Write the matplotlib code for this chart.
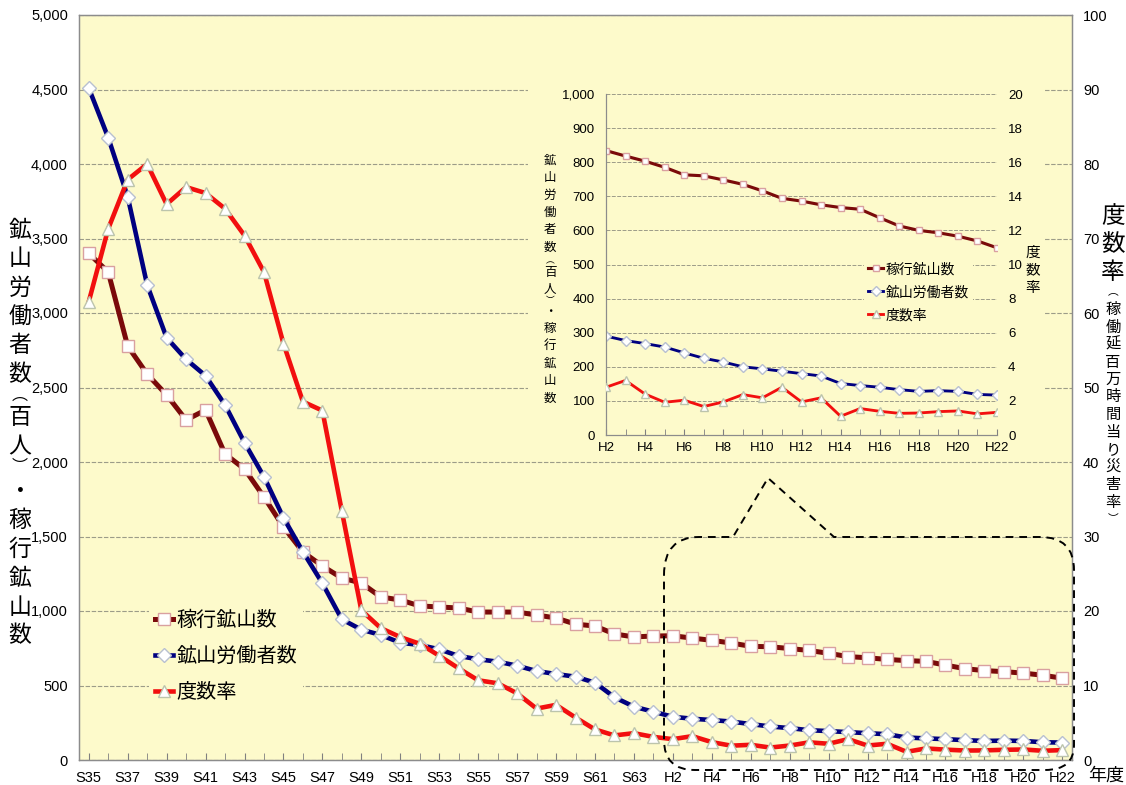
import matplotlib
matplotlib.use("Agg")
import matplotlib.pyplot as plt
from matplotlib.path import Path
from matplotlib.patches import PathPatch, Rectangle
from matplotlib.lines import Line2D
from matplotlib.ticker import FuncFormatter, MultipleLocator

plt.rcParams['font.family'] = ['Liberation Sans', 'Noto Sans CJK JP', 'DejaVu Sans']
JP = ['Noto Sans CJK JP', 'DejaVu Sans']

# ---- data ----
years = ['S%d' % y for y in range(35, 64)] + ['H%d' % y for y in range(1, 23)]

mines = [3400, 3275, 2778, 2590, 2450, 2282, 2349, 2054, 1953, 1765,
         1564, 1396, 1302, 1221, 1188, 1094, 1074, 1034, 1027, 1020,
         993, 993, 993, 973, 953, 912, 899, 846, 826, 832,
         834, 818, 803, 785, 763, 760, 748, 735, 716, 694,
         686, 675, 667, 662, 637, 613, 600, 593, 583, 569, 549]

workers = [4510, 4177, 3781, 3188, 2834, 2689, 2579, 2383, 2130, 1901,
           1626, 1398, 1186, 944, 875, 839, 787, 772, 743, 698,
           676, 660, 633, 597, 577, 559, 519, 421, 358, 324,
           290, 277, 268, 258, 241, 225, 214, 200, 194, 187,
           180, 173, 151, 145, 140, 133, 128, 130, 128, 119, 117]

rate = [61.5, 71.3, 77.9, 80.0, 74.6, 76.9, 76.1, 74.0, 70.4, 65.5,
        55.9, 48.1, 46.9, 33.4, 20.1, 17.7, 16.5, 15.6, 14.0, 12.3,
        10.7, 10.3, 8.95, 6.9, 7.4, 5.7, 4.1, 3.3, 3.6, 3.1,
        2.8, 3.2, 2.4, 1.92, 2.04, 1.67, 1.94, 2.37, 2.18, 2.8,
        1.94, 2.18, 1.1, 1.55, 1.39, 1.27, 1.29, 1.37, 1.41, 1.24, 1.33]

labels = ['稼行鉱山数', '鉱山労働者数', '度数率']
inset_start = years.index('H2')

BG = '#FDFACB'
C_MINE, C_WORK, C_RATE = '#7A0A0A', '#000080', '#F20F0F'
GRID = '#9C9C88'

W, H = 1126, 785
fig = plt.figure(figsize=(W / 100, H / 100), dpi=100)


def fx(px):
    return px / W


def fy(py):
    return 1 - py / H


def box(l, t, r, b):
    return [fx(l), fy(b), fx(r) - fx(l), fy(t) - fy(b)]


def vtext(x, ys, chars, size):
    # one character per row; the vertical brackets get a smaller box
    for y, ch in zip(ys, chars):
        s = size * 0.7 if ch in '︵︶' else size
        fig.text(fx(x), fy(y), ch, ha='center', va='center', fontsize=s, family=JP)


def styles(scale):
    return [
        dict(color=C_MINE, lw=3.6 * scale, marker='s', ms=8 * scale, mfc='white', mec='#D9A0A0', mew=1),
        dict(color=C_WORK, lw=3.3 * scale, marker='D', ms=7.5 * scale, mfc='white', mec='#B8C0D0', mew=1),
        dict(color=C_RATE, lw=3.3 * scale, marker='^', ms=8.8 * scale, mfc='white', mec='#BCC4AC', mew=1),
    ]


# ---- main chart ----
ax = fig.add_axes(box(79, 15, 1072, 760))
ax.set_facecolor(BG)
x = list(range(len(years)))
st = styles(1.0)
ax.plot(x, mines, **st[0], zorder=3)
ax.plot(x, workers, **st[1], zorder=3)
ax2 = ax.twinx()
ax2.plot(x, rate, **st[2], zorder=3)

ax.set_xlim(-0.5, len(years) - 0.5)
ax.set_ylim(0, 5000)
ax2.set_ylim(0, 100)
ax.yaxis.set_major_locator(MultipleLocator(500))
ax.yaxis.set_major_formatter(FuncFormatter(lambda v, p: f'{v:,.0f}'))
ax2.yaxis.set_major_locator(MultipleLocator(10))
ax.grid(axis='y', color=GRID, lw=0.8, ls=(0, (4, 1.5)))
ax.set_axisbelow(True)
ax.set_xticks(x[::2], years[::2])
ax.set_xticks(x, minor=True)
ax.tick_params(axis='x', which='both', direction='in', length=5, color='#808080', pad=8, labelsize=10.5)
ax.tick_params(axis='y', length=0, pad=8, labelsize=10.5)
ax2.tick_params(axis='y', length=0, pad=8, labelsize=10.5)
for a in (ax, ax2):
    for s in a.spines.values():
        s.set_color('#8C8C8C')
        s.set_linewidth(0.9)

handles = [Line2D([], [], **s) for s in st]
leg = ax.legend(handles, labels, loc='upper left', bbox_to_anchor=(fx(139), fy(594)),
                bbox_transform=fig.transFigure, prop={'family': JP, 'size': 14.5},
                handlelength=0.9, handletextpad=0.15, labelspacing=0.75, borderpad=0.3,
                frameon=True, facecolor=BG, edgecolor='none', framealpha=1, fancybox=False)
leg.set_zorder(5)

# yellow chart area behind the inset
fig.add_artist(Rectangle((fx(528), fy(456)), fx(1045) - fx(528), fy(78) - fy(456),
                         transform=fig.transFigure, facecolor=BG, edgecolor='none', zorder=1.5))

# ---- inset chart ----
ins = fig.add_axes(box(606, 94, 997, 435))
ins.set_zorder(2)
ins.set_facecolor(BG)
xi = list(range(len(years) - inset_start))
sti = styles(0.62)
ins.plot(xi, mines[inset_start:], **sti[0], zorder=3)
ins.plot(xi, workers[inset_start:], **sti[1], zorder=3)
ins2 = ins.twinx()
ins2.set_zorder(3)
ins2.plot(xi, rate[inset_start:], **sti[2], zorder=3)
ins.set_xlim(0, len(xi) - 1)
ins.set_ylim(0, 1000)
ins2.set_ylim(0, 20)
ins.yaxis.set_major_locator(MultipleLocator(100))
ins.yaxis.set_major_formatter(FuncFormatter(lambda v, p: f'{v:,.0f}'))
ins2.yaxis.set_major_locator(MultipleLocator(2))
ins.grid(axis='y', color=GRID, lw=0.7, ls=(0, (4, 1.5)))
ins.set_axisbelow(True)
ins.set_xticks(xi[::2], years[inset_start::2])
ins.set_xticks(xi, minor=True)
ins.tick_params(axis='x', which='both', direction='in', length=4, color='#808080', pad=5, labelsize=9.5)
ins.tick_params(axis='y', length=0, pad=8, labelsize=9.5)
ins2.tick_params(axis='y', length=0, pad=8, labelsize=9.5)
for a in (ins, ins2):
    for k, s in a.spines.items():
        s.set_color('#8C8C8C')
        s.set_linewidth(0.8)
        s.set_visible(k in ('left', 'bottom'))

hi = [Line2D([], [], **s) for s in sti]
leg2 = ins2.legend(hi, labels, loc='upper left', bbox_to_anchor=(fx(857), fy(251)),
                   bbox_transform=fig.transFigure, prop={'family': JP, 'size': 10},
                   handlelength=1.1, handletextpad=0.15, labelspacing=0.65, borderpad=0.3,
                   frameon=True, facecolor=BG, edgecolor='none', framealpha=1, fancybox=False)

# ---- dashed callout ----
pts = [(664, 575), (664, 537), (699, 537), (733, 537), (768, 478), (834, 537), (1040, 537),
       (1074, 537), (1074, 570), (1074, 745), (1074, 770), (1045, 770), (695, 770),
       (664, 770), (664, 740), (664, 575)]
codes = [Path.MOVETO, Path.CURVE3, Path.CURVE3, Path.LINETO, Path.LINETO, Path.LINETO, Path.LINETO,
         Path.CURVE3, Path.CURVE3, Path.LINETO, Path.CURVE3, Path.CURVE3, Path.LINETO,
         Path.CURVE3, Path.CURVE3, Path.LINETO]
callout = Path([(fx(a), fy(b)) for a, b in pts], codes)
fig.add_artist(PathPatch(callout, transform=fig.transFigure, fill=False, edgecolor='black',
                         lw=1.4, ls=(0, (4, 3)), zorder=4))

# ---- axis titles (vertical, one character per row) ----
left_chars = list('鉱山労働者数') + ['︵', '百', '人', '︶', '・'] + list('稼行鉱山数')
left_y = [230, 259, 288, 317, 346, 375, 395, 418, 447, 467, 492, 520, 549, 578, 607, 636]
vtext(20, left_y, left_chars, 16.5)

vtext(1113, [217, 245, 273], list('度数率'), 17)
small = ['︵'] + list('稼働延百万時間当り災害率') + ['︶']
vtext(1113, [292 + 17.5 * i for i in range(len(small))], small, 11)

inset_y = [160, 177.5, 195, 212.5, 230, 247.5, 261, 273, 290, 301, 312, 328, 345.5, 363, 380.5, 398]
vtext(550, inset_y, left_chars, 9)
vtext(1033, [253, 270.5, 288], list('度数率'), 10.5)

fig.text(fx(1106), fy(776), '年度', ha='center', va='center', fontsize=13, family=JP)

fig.savefig('out.png', dpi=100, facecolor='white')
